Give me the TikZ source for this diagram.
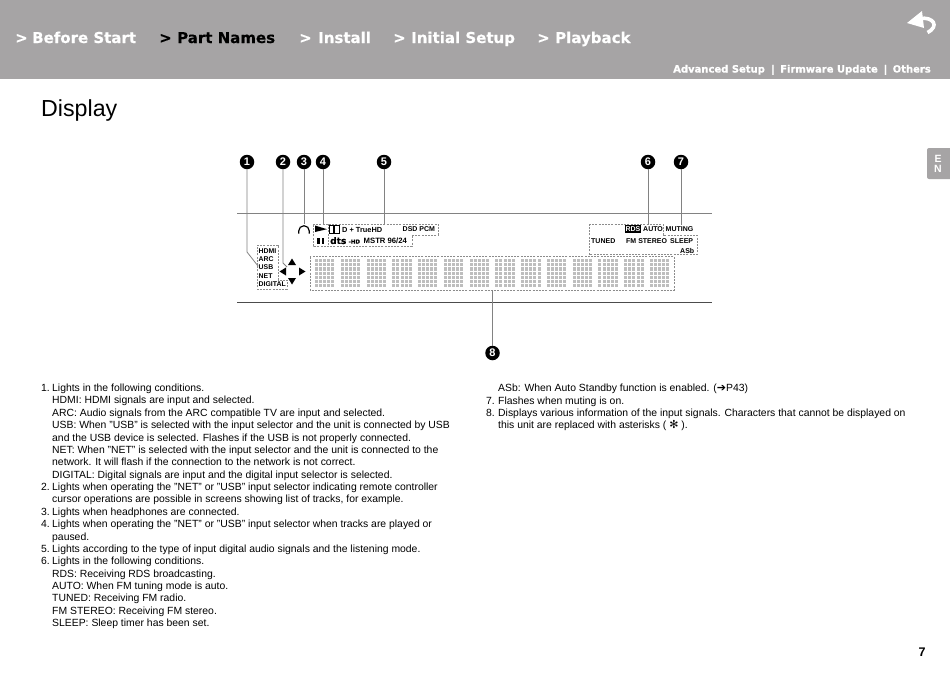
\documentclass[tikz,border=0pt]{standalone}
\usepackage{fontspec}
\setmainfont{Liberation Sans}
\newfontfamily\navfont{DejaVu Sans}[BoldFeatures={FakeBold=0.5}]
\newfontfamily\symfont{DejaVu Sans}
\usetikzlibrary{arrows.meta,positioning,calc}
\definecolor{bandgray}{RGB}{166,164,165}
\definecolor{leadgray}{RGB}{130,130,130}
\definecolor{dashgray}{RGB}{140,140,140}
\definecolor{dotgray}{RGB}{190,190,190}
\tikzset{
  navtext/.style={anchor=base west, inner sep=0pt, font=\navfont\bfseries\fontsize{15}{16}\selectfont},
  subnav/.style={anchor=base west, inner sep=0pt, white, font=\navfont\bfseries\fontsize{10}{11}\selectfont},
  calloutnum/.style={circle, fill=black, text=white, inner sep=0pt, minimum size=14.5pt, font=\bfseries\fontsize{11}{11}\selectfont},
  leader/.style={leadgray, line width=0.8pt},
  dashbox/.style={dashgray, line width=0.8pt, dash pattern=on 2pt off 1.2pt},
  panellabel/.style={anchor=west, inner sep=0pt, font=\bfseries\fontsize{7}{8}\selectfont},
  bodyline/.style={anchor=base west, inner sep=0pt, font=\fontsize{10.4}{12}\selectfont},
  dotcell/.style={dotgray}
}

\begin{document}
\begin{tikzpicture}[x=1pt,y=-1pt]
    \useasboundingbox (0,0) rectangle (950,672);
    \fill[white] (0,0) rectangle (950,672);
    % Header band
    \fill[bandgray] (0,0) rectangle (950,79);
    \foreach \x/\txt/\col [count=\i] in {15/>/white,32/Before Start/white,159/>/black,177/Part Names/black,299/>/white,318/Install/white,393/>/white,411/Initial Setup/white,537/>/white,555/Playback/white}
      \node[navtext, text=\col] (nav\i) at (\x,43) {\txt};
    \node[subnav] (subA) at (673,72.5) {Advanced Setup};
    \node[subnav] (subB) at (771,72.5) {|};
    \node[subnav] (subC) at (780,72.5) {Firmware Update};
    \node[subnav] (subD) at (883.5,72.5) {|};
    \node[subnav] (subE) at (892.5,72.5) {Others};
    % Back arrow
    \fill[white] (907,23) -- (922,11) -- (924,28) -- cycle;
    \draw[white, line width=3.6pt] (920,18.5) .. controls (933,16.5) and (940,26) .. (927.5,32.5);
    % Language tab
    \fill[bandgray, rounded corners=2pt] (927,148) rectangle (955,179);
    \node[inner sep=0pt, white, font=\bfseries\fontsize{10.5}{10}\selectfont] (tabE) at (938,158.5) {E};
    \node[inner sep=0pt, white, font=\bfseries\fontsize{10.5}{10}\selectfont] (tabN) at (938,169) {N};
    % Title and page number
    \node[anchor=base west, inner sep=0pt, font=\fontsize{23.2}{26}\selectfont] (title) at (41,116.5) {Display};
    \node[anchor=base west, inner sep=0pt, font=\bfseries\fontsize{12.5}{13}\selectfont] (pagenum) at (918.5,656.5) {7};
    % Panel rules
    \draw[leadgray, line width=0.8pt] (237,213) -- (712,213);
    \draw[black!70, line width=0.9pt] (237,302) -- (712,302);
    % Dash boxes
    \draw[dashbox] (257,245) -- (278,245) -- (278,280) -- (287,280) -- (287,289) -- (257,289) -- cycle;
    \draw[dashbox] (313,224) -- (438,224) -- (438,235) -- (412,235) -- (412,246) -- (313,246) -- cycle;
    \draw[dashbox] (328,224) -- (328,246);
    \draw[dashbox] (589,224) -- (663,224) -- (663,235) -- (697,235) -- (697,254.5) -- (589,254.5) -- cycle;
    \draw[dashbox] (310,256.5) rectangle (674,290);
    % Display characters
    \foreach \c in {0,...,13}
      \foreach \col in {0,...,4}
        \foreach \row in {0,...,6}
          \fill[dotcell] ({315+25.77*\c+4.1*\col},{259+4.2*\row}) rectangle ++(3,3.1);
    % Input labels
    \foreach \y/\txt [count=\i] in {250.7/HDMI,258.9/ARC,267.2/USB,275.7/NET,284/DIGITAL}
      \node[panellabel, font=\bfseries\fontsize{6.9}{8}\selectfont] (input\i) at (258.5,\y) {\txt};
    % Cursor arrows
    \fill (292,258.5) -- (288,265) -- (296,265) -- cycle;
    \fill (292,284.5) -- (288,278) -- (296,278) -- cycle;
    \fill (279.5,271.5) -- (286,267.5) -- (286,275.5) -- cycle;
    \fill (305.5,271.5) -- (299,267.5) -- (299,275.5) -- cycle;
    % Headphones
    \draw[line width=1.2pt] (298.7,233.5) -- (298.7,231) arc[start angle=180, end angle=360, radius=5.3] -- (309.3,233.5);
    % Play and pause
    \fill (315,225.5) -- (327,229.2) -- (315,232) -- cycle;
    \fill (317,237.5) rectangle (319.5,244);
    \fill (321.5,237.5) rectangle (324,244);
    % Format logos
    \draw[line width=0.9pt] (329.5,225.5) rectangle (339,233);
    \fill (333.3,226) rectangle (335.2,232.5);
    \node[panellabel, font=\bfseries\fontsize{7.4}{8}\selectfont] (truehd) at (342,229.5) {D + TrueHD};
    \node[panellabel] (dsdpcm) at (402.5,229.5) {DSD PCM};
    \node[panellabel, font=\navfont\bfseries\fontsize{9}{9}\selectfont] (dtslogo) at (330,240.6) {dts};
    \node[panellabel, font=\navfont\bfseries\fontsize{5.4}{5}\selectfont] (hdlogo) at (348.5,241.6) {-HD};
    \node[panellabel, font=\bfseries\fontsize{7.7}{8}\selectfont] (mstr) at (363.5,241) {MSTR 96/24};
    % Tuner labels
    \fill (625,225.3) rectangle (641,233.3);
    \node[panellabel, white, anchor=center] (rds) at (633,229.4) {RDS};
    \node[panellabel] (autolbl) at (643,229.4) {AUTO};
    \node[panellabel] (muting) at (665.5,229.4) {MUTING};
    \node[panellabel] (tuned) at (591,240.8) {TUNED};
    \node[panellabel] (fmstereo) at (626,240.8) {FM STEREO};
    \node[panellabel] (sleep) at (670,240.8) {SLEEP};
    \node[panellabel] (asb) at (680,251) {ASb};
    % Callouts
    \foreach \x/\n in {247/1,283/2,304/3,323/4,384/5,648/6,681/7}
      \node[calloutnum] (c\n) at (\x,162) {\n};
    \node[calloutnum] (c8) at (492.5,353) {8};
    \coordinate (k1) at (247,252);
    \coordinate (e1) at (258,266);
    \coordinate (k2) at (283,263);
    \coordinate (e2) at (287,267);
    \coordinate (e3) at (304,224);
    \coordinate (e4) at (323,224);
    \coordinate (e5) at (384,224);
    \coordinate (e6) at (648,225);
    \coordinate (e7) at (681,225);
    \coordinate (e8) at (492.5,290);
    \draw[leader] (c1) -- (k1) -- (e1);
    \draw[leader] (c2) -- (k2) -- (e2);
    \foreach \n in {3,...,8}
      \draw[leader] (c\n) -- (e\n);
    % Left column
    \foreach \y/\num [count=\i] in {391.6/1.,490.6/2.,515.3/3.,527.7/4.,552.4/5.,564.8/6.}
      \node[bodyline] (numA\i) at (41,\y) {\num};
    \foreach \txt [count=\i] in {
      Lights in the following conditions.,
      HDMI: HDMI signals are input and selected.,
      ARC: Audio signals from the ARC compatible TV are input and selected.,
      USB: When "USB" is selected with the input selector and the unit is connected by USB,
      and the USB device is selected. Flashes if the USB is not properly connected.,
      NET: When "NET" is selected with the input selector and the unit is connected to the,
      network. It will flash if the connection to the network is not correct.,
      DIGITAL: Digital signals are input and the digital input selector is selected.,
      Lights when operating the "NET" or "USB" input selector indicating remote controller,
      cursor operations are possible in screens showing list of tracks{,} for example.,
      Lights when headphones are connected.,
      Lights when operating the "NET" or "USB" input selector when tracks are played or,
      paused.,
      Lights according to the type of input digital audio signals and the listening mode.,
      Lights in the following conditions.,
      RDS: Receiving RDS broadcasting.,
      AUTO: When FM tuning mode is auto.,
      TUNED: Receiving FM radio.,
      FM STEREO: Receiving FM stereo.,
      SLEEP: Sleep timer has been set.}
      \node[bodyline] (lineA\i) at (52,{391.6+12.37*(\i-1)}) {\txt};
    % Right column
    \node[bodyline] (lineB1) at (498,391.6) {ASb: When Auto Standby function is enabled. ({\symfont\fontsize{11}{12}\selectfont ➔}P43)};
    \node[bodyline] (numB7) at (486,404) {7.};
    \node[bodyline] (lineB2) at (498,404) {Flashes when muting is on.};
    \node[bodyline] (numB8) at (486,416.3) {8.};
    \node[bodyline] (lineB3) at (498,416.3) {Displays various information of the input signals. Characters that cannot be displayed on};
    \node[bodyline] (lineB4) at (498,428.7) {this unit are replaced with asterisks ( {\symfont\fontsize{11}{12}\selectfont ✻} ).};
  \end{tikzpicture}
\end{document}
